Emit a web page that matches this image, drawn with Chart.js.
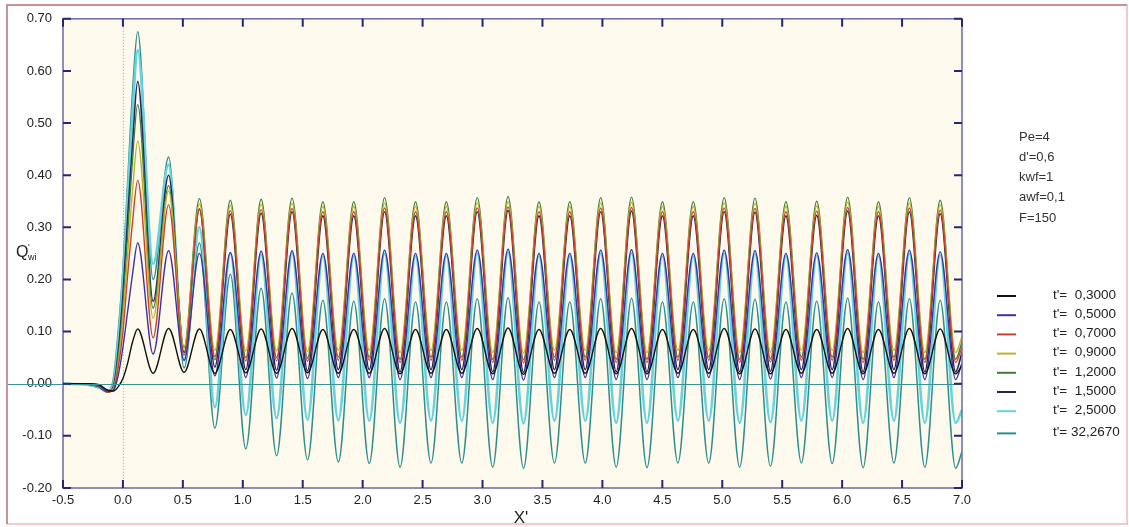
<!DOCTYPE html>
<html><head><meta charset="utf-8">
<script src="https://cdn.jsdelivr.net/npm/chart.js@4.4.1/dist/chart.umd.min.js"></script>
<style>html,body{margin:0;padding:0;background:#fff;}#wrap{position:relative;width:1129px;height:527px;}</style>
</head><body><div id="wrap"><canvas id="c" width="1129" height="527"></canvas></div>
<script>
// ---- data ----
const X_PRE = [-0.5, -0.3, -0.2, -0.13, -0.08, -0.04, 0.0, 0.04, 0.08];
const X_PEAK = [0.123,0.381,0.638,0.896,1.153,1.411,1.668,1.926,2.183,2.441,2.698,2.956,3.213,3.471,3.728,3.986,4.243,4.501,4.758,5.016,5.273,5.531,5.788,6.046,6.303,6.561,6.818];
const X_TROUGH = [0.252,0.510,0.767,1.025,1.282,1.540,1.797,2.055,2.312,2.570,2.827,3.085,3.342,3.600,3.857,4.115,4.372,4.630,4.887,5.145,5.402,5.660,5.917,6.175,6.432,6.690,6.947];
const X_END = 7.0;

const LABELS = ["t'=  0,3000","t'=  0,5000","t'=  0,7000","t'=  0,9000","t'=  1,2000","t'=  1,5000","t'=  2,5000","t'= 32,2670"];
const PARAMS = ["Pe=4","d'=0,6","kwf=1","awf=0,1","F=150"];
const X_TICKS = [-0.5,0,0.5,1,1.5,2,2.5,3,3.5,4,4.5,5,5.5,6,6.5,7];
const Y_TICKS = [-0.2,-0.1,0,0.1,0.2,0.3,0.4,0.5,0.6,0.7];

const pre_t03 = [0,0,-0.002,-0.012,-0.014,-0.006,0.01,0.04,0.08];
const peaks_t03 = [0.105,0.106,0.105,0.104,0.105,0.106,0.104,0.104,0.106,0.104,0.104,0.106,0.107,0.104,0.104,0.106,0.106,0.104,0.104,0.106,0.105,0.104,0.104,0.106,0.104,0.106,0.105];
const troughs_t03 = [0.020,0.022,0.020,0.021,0.020,0.021,0.020,0.020,0.019,0.020,0.020,0.019,0.018,0.020,0.020,0.019,0.019,0.020,0.020,0.019,0.019,0.020,0.020,0.019,0.020,0.019,0.019];
const end_t03 = 0.035;

const pre_t05 = [0,0,-0.003,-0.015,-0.013,0.015,0.07,0.14,0.21];
const peaks_t05 = [0.27,0.255,0.25,0.252,0.254,0.255,0.25,0.25,0.256,0.25,0.25,0.256,0.258,0.25,0.25,0.256,0.257,0.25,0.25,0.256,0.255,0.25,0.251,0.257,0.25,0.256,0.253];
const troughs_t05 = [0.057,0.045,0.015,0.012,0.011,0.010,0.012,0.012,0.008,0.012,0.012,0.008,0.007,0.012,0.012,0.008,0.008,0.012,0.012,0.008,0.009,0.012,0.012,0.008,0.012,0.008,0.008];
const end_t05 = 0.04;

const pre_t07 = [0,-0.001,-0.004,-0.016,-0.012,0.03,0.10,0.21,0.31];
const peaks_t07 = [0.39,0.343,0.335,0.332,0.334,0.336,0.33,0.33,0.337,0.33,0.33,0.337,0.339,0.33,0.33,0.337,0.338,0.33,0.33,0.337,0.336,0.33,0.331,0.338,0.33,0.337,0.333];
const troughs_t07 = [0.088,0.055,0.046,0.044,0.044,0.043,0.045,0.045,0.041,0.045,0.045,0.041,0.040,0.045,0.045,0.041,0.041,0.045,0.045,0.041,0.042,0.045,0.045,0.041,0.045,0.041,0.041];
const end_t07 = 0.07;

const pre_t09 = [0,-0.001,-0.004,-0.016,-0.01,0.04,0.13,0.25,0.37];
const peaks_t09 = [0.465,0.37,0.345,0.342,0.344,0.346,0.34,0.34,0.347,0.34,0.34,0.347,0.349,0.34,0.34,0.347,0.348,0.34,0.34,0.347,0.346,0.34,0.341,0.348,0.34,0.347,0.343];
const troughs_t09 = [0.126,0.068,0.064,0.063,0.063,0.062,0.064,0.064,0.060,0.064,0.064,0.060,0.059,0.064,0.064,0.060,0.060,0.064,0.064,0.060,0.061,0.064,0.064,0.060,0.064,0.060,0.060];
const end_t09 = 0.09;

const pre_t12 = [0,-0.001,-0.005,-0.016,-0.008,0.05,0.15,0.29,0.43];
const peaks_t12 = [0.535,0.38,0.355,0.352,0.354,0.356,0.349,0.349,0.357,0.349,0.349,0.357,0.359,0.349,0.349,0.357,0.358,0.349,0.349,0.357,0.356,0.349,0.350,0.358,0.349,0.357,0.352];
const troughs_t12 = [0.145,0.070,0.052,0.050,0.050,0.049,0.051,0.051,0.047,0.051,0.051,0.047,0.046,0.051,0.051,0.047,0.047,0.051,0.051,0.047,0.048,0.051,0.051,0.047,0.051,0.047,0.047];
const end_t12 = 0.08;

const pre_t15 = [0,-0.001,-0.006,-0.016,-0.006,0.06,0.17,0.32,0.46];
const peaks_t15 = [0.58,0.40,0.335,0.325,0.327,0.33,0.322,0.322,0.33,0.322,0.322,0.33,0.332,0.322,0.322,0.33,0.331,0.322,0.322,0.33,0.329,0.322,0.323,0.331,0.322,0.33,0.326];
const troughs_t15 = [0.158,0.060,0.032,0.027,0.026,0.025,0.027,0.027,0.023,0.027,0.027,0.023,0.022,0.027,0.027,0.023,0.023,0.027,0.027,0.023,0.024,0.027,0.027,0.023,0.027,0.023,0.023];
const end_t15 = 0.06;

const pre_t25 = [0,-0.002,-0.007,-0.015,0.0,0.08,0.20,0.36,0.52];
const peaks_t25 = [0.64,0.42,0.30,0.25,0.248,0.25,0.245,0.245,0.25,0.245,0.245,0.25,0.252,0.245,0.245,0.25,0.251,0.245,0.245,0.25,0.249,0.245,0.246,0.251,0.245,0.25,0.247];
const troughs_t25 = [0.230,0.045,-0.045,-0.060,-0.066,-0.069,-0.070,-0.071,-0.075,-0.071,-0.071,-0.075,-0.076,-0.071,-0.071,-0.075,-0.075,-0.071,-0.071,-0.075,-0.074,-0.071,-0.071,-0.075,-0.071,-0.075,-0.075];
const end_t25 = -0.05;

const pre_t32 = [0,-0.002,-0.008,-0.014,0.01,0.10,0.22,0.39,0.56];
const peaks_t32 = [0.675,0.435,0.27,0.21,0.183,0.174,0.16,0.158,0.163,0.157,0.157,0.163,0.165,0.157,0.157,0.163,0.164,0.157,0.157,0.163,0.162,0.157,0.158,0.164,0.157,0.163,0.16];
const troughs_t32 = [0.200,0.030,-0.085,-0.125,-0.138,-0.146,-0.150,-0.153,-0.160,-0.152,-0.152,-0.160,-0.162,-0.152,-0.152,-0.160,-0.161,-0.152,-0.152,-0.160,-0.158,-0.152,-0.153,-0.161,-0.152,-0.160,-0.162];
const end_t32 = -0.13;

// ---- styles ----
const COLORS = ['#111111','#3a33a4','#c8412e','#bdb22a','#3f7d3a','#25255e','#66d2de','#2e8e8e'];
const WIDTHS = [1.4,1.4,1.4,1.4,1.4,1.6,2.6,1.5];

function build(pre, peaks, troughs, end){
  const pts = pre.map((y,i)=>({x:X_PRE[i], y}));
  for (let k=0;k<peaks.length;k++){
    pts.push({x:X_PEAK[k], y:peaks[k]});
    pts.push({x:X_TROUGH[k], y:troughs[k]});
  }
  pts.push({x:X_END, y:end});
  return pts;
}
const SERIES = [
  build(pre_t03,peaks_t03,troughs_t03,end_t03),
  build(pre_t05,peaks_t05,troughs_t05,end_t05),
  build(pre_t07,peaks_t07,troughs_t07,end_t07),
  build(pre_t09,peaks_t09,troughs_t09,end_t09),
  build(pre_t12,peaks_t12,troughs_t12,end_t12),
  build(pre_t15,peaks_t15,troughs_t15,end_t15),
  build(pre_t25,peaks_t25,troughs_t25,end_t25),
  build(pre_t32,peaks_t32,troughs_t32,end_t32)
];

const FONT = '"Liberation Sans", Arial, sans-serif';

const decor = {
  id:'decor',
  beforeDraw(chart){
    const c = chart.ctx, a = chart.chartArea;
    c.save();
    c.fillStyle='#ffffff'; c.fillRect(0,0,chart.width,chart.height);
    // outer frame
    c.strokeStyle='#f3c9c9'; c.lineWidth=2;
    c.strokeRect(7,5,1120,519);
    c.strokeStyle='#c99392'; c.lineWidth=2;
    c.beginPath(); c.moveTo(7,524); c.lineTo(7,5); c.lineTo(1127,5); c.stroke();
    // plot background
    c.fillStyle='#fdf9ec';
    c.fillRect(a.left,a.top,a.right-a.left,a.bottom-a.top);
    c.restore();
  },
  beforeDatasetsDraw(chart){
    const c = chart.ctx, a = chart.chartArea, xs = chart.scales.x;
    c.save();
    const px0 = xs.getPixelForValue(0);
    c.strokeStyle='#a8a8a8'; c.lineWidth=1; c.setLineDash([1,2]);
    c.beginPath(); c.moveTo(px0+0.5,a.top); c.lineTo(px0+0.5,a.bottom); c.stroke();
    c.setLineDash([]);
    c.restore();
  },
  afterDatasetsDraw(chart){
    const c = chart.ctx, a = chart.chartArea, xs = chart.scales.x, ys = chart.scales.y;
    c.save();
    // zero line
    const py0 = Math.round(ys.getPixelForValue(0))+0.5;
    c.strokeStyle='#3b9393'; c.lineWidth=1;
    c.beginPath(); c.moveTo(8,py0); c.lineTo(a.right,py0); c.stroke();
    // box
    c.strokeStyle='#6a6aa2'; c.lineWidth=1.5;
    c.strokeRect(a.left,a.top,a.right-a.left,a.bottom-a.top);
    // ticks
    c.strokeStyle='#27276f'; c.lineWidth=2;
    c.beginPath();
    Y_TICKS.forEach(v=>{
      const p = ys.getPixelForValue(v);
      c.moveTo(a.left,p); c.lineTo(a.left+8,p);
      c.moveTo(a.right,p); c.lineTo(a.right-8,p);
    });
    X_TICKS.forEach(v=>{
      const p = xs.getPixelForValue(v);
      c.moveTo(p,a.bottom); c.lineTo(p,a.bottom-8);
      c.moveTo(p,a.top); c.lineTo(p,a.top+8);
    });
    c.stroke();
    // axis titles
    c.fillStyle='#222'; c.textBaseline='alphabetic';
    c.font='17px '+FONT; c.textAlign='center';
    c.fillText("X'", 521, 523);
    c.textAlign='left';
    c.font='16px '+FONT; c.fillText('Q', 16, 257);
    c.font='9px '+FONT; c.fillText("'", 28, 250); c.fillText('wi', 28, 260);
    // params
    c.font='13px '+FONT; c.fillStyle='#333';
    c.textBaseline='middle';
    PARAMS.forEach((t,i)=>c.fillText(t, 1019, 137+i*20.3));
    // legend
    c.font='13.5px '+FONT;
    LABELS.forEach((t,i)=>{
      const y = 295 + i*19.2 + (i===7?3:0);
      c.strokeStyle=COLORS[i]; c.lineWidth=2;
      c.beginPath(); c.moveTo(997,y+1); c.lineTo(1016,y+1); c.stroke();
      c.fillStyle='#222'; c.fillText(t, 1053, y);
    });
    c.restore();
  }
};

new Chart(document.getElementById('c'), {
  type:'line',
  data:{ datasets: SERIES.map((d,i)=>({
    label: LABELS[i], data:d, borderColor:COLORS[i], backgroundColor:COLORS[i],
    borderWidth:WIDTHS[i], pointRadius:0, fill:false, cubicInterpolationMode:'monotone'
  }))},
  options:{
    responsive:false, animation:false, devicePixelRatio:1,
    layout:{padding:{left:0,right:167,top:16,bottom:0}},
    plugins:{legend:{display:false}, tooltip:{enabled:false}},
    scales:{
      x:{type:'linear', min:-0.5, max:7.0,
        afterBuildTicks(s){ s.ticks = X_TICKS.map(v=>({value:v})); },
        afterFit(s){ s.height = 39; },
        grid:{display:false, drawTicks:false}, border:{display:false},
        ticks:{padding:5, color:'#222', font:{family:FONT,size:13}, maxRotation:0, autoSkip:false,
          callback:(v)=>Number(v).toFixed(1)}},
      y:{type:'linear', min:-0.2, max:0.7,
        afterBuildTicks(s){ s.ticks = Y_TICKS.map(v=>({value:v})); },
        afterFit(s){ s.width = 63; },
        grid:{display:false, drawTicks:false}, border:{display:false},
        ticks:{padding:11, color:'#222', font:{family:FONT,size:13}, autoSkip:false,
          callback:(v)=>Number(v).toFixed(2)}}
    }
  },
  plugins:[decor]
});
</script></body></html>
